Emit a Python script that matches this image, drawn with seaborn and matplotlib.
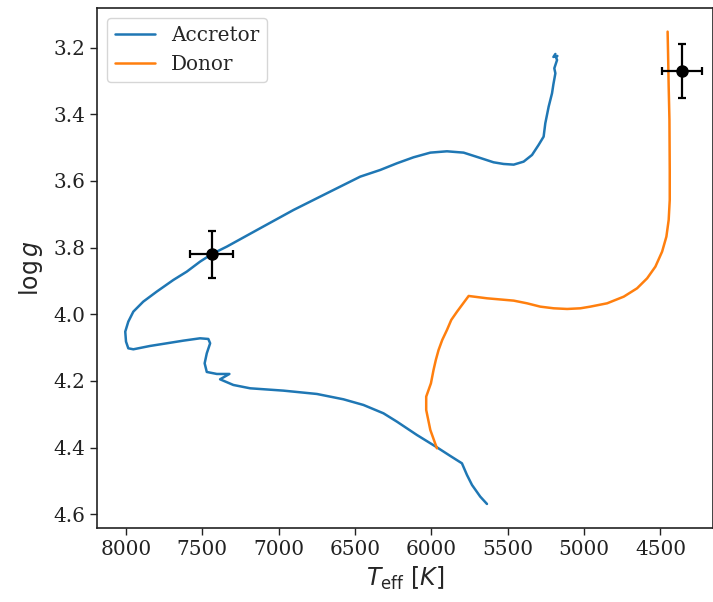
import matplotlib
matplotlib.use("Agg")
import matplotlib.pyplot as plt
import seaborn as sns
import pandas as pd

# Accretor track (Teff [K], log g)
acc_teff = [5636, 5680, 5734, 5767, 5800, 5876, 5964, 6095, 6226, 6314, 6445, 6576,
            6750, 6969, 7187, 7297, 7384, 7323, 7405, 7471, 7485, 7471, 7449, 7461,
            7515, 7624, 7733, 7843, 7952, 7985, 8000, 8005, 7985, 7952, 7887, 7799,
            7690, 7602, 7515, 7437, 7340, 7122, 6903, 6685, 6466, 6335, 6226, 6117,
            6007, 5898, 5789, 5680, 5593, 5527, 5461, 5396, 5341, 5298, 5265, 5254,
            5232, 5210, 5201, 5188, 5195, 5177, 5185, 5175, 5201, 5188]
acc_logg = [4.569, 4.547, 4.512, 4.482, 4.447, 4.425, 4.399, 4.362, 4.322, 4.297, 4.272, 4.255,
            4.239, 4.229, 4.222, 4.212, 4.195, 4.179, 4.179, 4.173, 4.147, 4.117, 4.087, 4.074,
            4.072, 4.079, 4.087, 4.095, 4.105, 4.102, 4.082, 4.052, 4.022, 3.992, 3.962, 3.932,
            3.897, 3.872, 3.842, 3.819, 3.797, 3.742, 3.687, 3.637, 3.587, 3.567, 3.547, 3.529,
            3.515, 3.511, 3.515, 3.531, 3.544, 3.549, 3.551, 3.542, 3.522, 3.492, 3.467, 3.427,
            3.377, 3.337, 3.310, 3.277, 3.262, 3.237, 3.228, 3.225, 3.228, 3.219]

# Donor track
don_teff = [5964, 6007, 6034, 6034, 6003, 5986, 5971, 5953, 5929, 5898, 5870, 5832,
            5756, 5636, 5461, 5374, 5287, 5199, 5111, 5024, 4959, 4849, 4740, 4653,
            4587, 4533, 4489, 4461, 4446, 4439, 4439, 4441, 4446, 4450, 4453]
don_logg = [4.402, 4.347, 4.287, 4.247, 4.207, 4.167, 4.137, 4.107, 4.077, 4.047, 4.017, 3.992,
            3.945, 3.952, 3.959, 3.967, 3.977, 3.982, 3.984, 3.982, 3.977, 3.967, 3.947, 3.922,
            3.892, 3.857, 3.812, 3.767, 3.717, 3.657, 3.567, 3.417, 3.317, 3.217, 3.152]

# Observed values with errors
obs_teff = [7440, 4360]
obs_teff_err = [140, 130]
obs_logg = [3.82, 3.27]
obs_logg_err = [0.07, 0.08]

series_names = ["Accretor", "Donor"]
series_colors = ["#1f77b4", "#ff7f0e"]
xticks = [8000, 7500, 7000, 6500, 6000, 5500, 5000, 4500]
yticks = [3.2, 3.4, 3.6, 3.8, 4.0, 4.2, 4.4, 4.6]

tracks = {
    series_names[0]: pd.DataFrame({"Teff": acc_teff, "logg": acc_logg}),
    series_names[1]: pd.DataFrame({"Teff": don_teff, "logg": don_logg}),
}

sns.set_style("ticks")
plt.rcParams["font.family"] = ["DejaVu Serif"]
plt.rcParams["mathtext.fontset"] = "dejavusans"
plt.rcParams["axes.edgecolor"] = "#222222"
plt.rcParams["xtick.color"] = "#222222"
plt.rcParams["ytick.color"] = "#222222"

fig = plt.figure(figsize=(7.13, 6.02), dpi=100)
ax = fig.add_axes([97 / 713, (602 - 528.3) / 602, (712.5 - 97) / 713, (528.3 - 8.3) / 602])

for name, color in zip(series_names, series_colors):
    sub = tracks[name]
    sns.lineplot(data=sub, x="Teff", y="logg", sort=False, estimator=None,
                 color=color, linewidth=1.8, ax=ax, label=name)

ax.errorbar(obs_teff, obs_logg, xerr=obs_teff_err, yerr=obs_logg_err, fmt="o",
            color="black", ms=8, elinewidth=1.6, capsize=3, capthick=1.6, zorder=5)

ax.set_xlim(8190, 4159)
ax.set_ylim(4.642, 3.082)
ax.set_xticks(xticks)
ax.set_xticklabels([str(t) for t in xticks])
ax.set_yticks(yticks)
ax.set_yticklabels([f"{t:.1f}" for t in yticks])
ax.tick_params(labelsize=14.4, width=1.0, length=5)
ax.set_xlabel(r"$T_{\mathrm{eff}}$ $[K]$", fontsize=17, labelpad=4)
ax.set_ylabel(r"$\log g$", fontsize=17, labelpad=6)
for s in ax.spines.values():
    s.set_linewidth(1.2)

ax.legend(loc="upper left", fontsize=14.4, frameon=True, fancybox=True,
          framealpha=0.8, edgecolor="#cccccc", borderaxespad=0.5)

fig.savefig("out.png", dpi=100, facecolor="white")
